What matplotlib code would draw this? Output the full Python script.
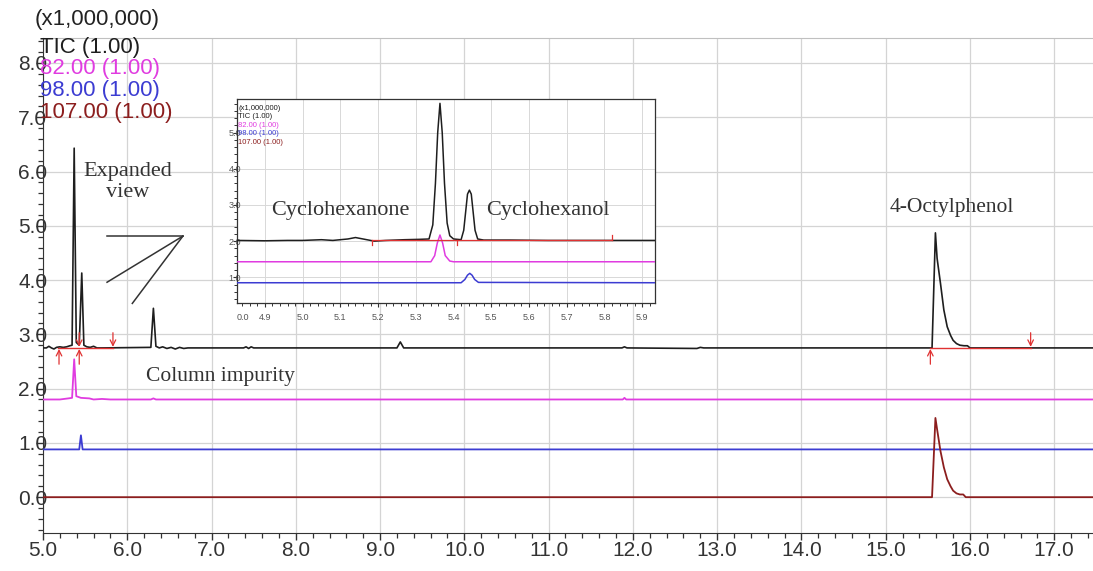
import numpy as np
import matplotlib.pyplot as plt
from matplotlib.ticker import MultipleLocator

plt.rcParams['font.family'] = ['Liberation Sans', 'DejaVu Sans']

# main chromatogram traces, time (min) / intensity (x1,000,000)
tic_t = [5.00, 5.04, 5.07, 5.10, 5.13, 5.16, 5.20, 5.24, 5.28, 5.32, 5.345, 5.37, 5.395,
         5.43, 5.46, 5.485, 5.52, 5.56, 5.60, 5.64, 5.70, 6.28, 6.31, 6.34, 6.38, 6.42,
         6.47, 6.52, 6.57, 6.62, 6.67, 6.72, 7.38, 7.41, 7.44, 7.47, 7.50, 9.20, 9.24,
         9.28, 11.87, 11.90, 11.93, 12.76, 12.80, 12.84, 15.55, 15.59, 15.61, 15.65,
         15.69, 15.73, 15.77, 15.80, 15.84, 15.88, 15.93, 15.97, 16.00, 17.46]
tic_v = [2.75, 2.75, 2.78, 2.75, 2.73, 2.76, 2.77, 2.76, 2.77, 2.79, 2.80, 6.43, 2.85,
         2.80, 4.13, 2.80, 2.77, 2.76, 2.78, 2.75, 2.75, 2.76, 3.48, 2.78, 2.75, 2.77,
         2.74, 2.76, 2.73, 2.76, 2.74, 2.75, 2.75, 2.77, 2.74, 2.77, 2.75, 2.75, 2.86,
         2.75, 2.75, 2.77, 2.75, 2.74, 2.76, 2.75, 2.75, 4.87, 4.40, 3.94, 3.45, 3.14,
         2.98, 2.89, 2.83, 2.80, 2.79, 2.79, 2.75, 2.75]

m82_t = [5.00, 5.20, 5.30, 5.345, 5.37, 5.395, 5.45, 5.55, 5.60, 5.70, 5.80, 6.28, 6.31,
         6.34, 11.88, 11.90, 11.92, 17.46]
m82_v = [1.80, 1.80, 1.82, 1.83, 2.54, 1.86, 1.83, 1.82, 1.80, 1.81, 1.80, 1.80, 1.82,
         1.80, 1.80, 1.83, 1.80, 1.80]

m98_t = [5.00, 5.43, 5.45, 5.47, 17.46]
m98_v = [0.88, 0.88, 1.14, 0.88, 0.88]

m107_t = [5.00, 15.55, 15.59, 15.61, 15.65, 15.69, 15.73, 15.77, 15.80, 15.84, 15.88,
          15.92, 15.95, 17.46]
m107_v = [0.00, 0.00, 1.46, 1.25, 0.85, 0.55, 0.33, 0.20, 0.12, 0.07, 0.05, 0.05, 0.00,
          0.00]

# integration baselines and peak start/end marks on the TIC
base_segs = [(5.18, 5.83), (15.53, 16.72)]
tic_base = 2.75
mark_up = [5.19, 5.43, 15.53]
mark_down = [5.43, 5.83, 16.72]

# expanded view, 4.83-5.93 min
ex_tic_t = [4.826, 4.90, 4.96, 5.00, 5.05, 5.08, 5.12, 5.14, 5.16, 5.19, 5.22, 5.27,
            5.31, 5.335, 5.345, 5.352, 5.358, 5.364, 5.370, 5.376, 5.383, 5.39, 5.40,
            5.42, 5.427, 5.432, 5.437, 5.442, 5.447, 5.452, 5.457, 5.464, 5.48, 5.55,
            5.65, 5.75, 5.934]
ex_tic_v = [2.02, 2.01, 2.02, 2.02, 2.04, 2.02, 2.06, 2.10, 2.06, 2.00, 2.02, 2.04,
            2.05, 2.06, 2.45, 3.60, 5.00, 5.81, 5.00, 3.60, 2.50, 2.15, 2.06,
            2.04, 2.30, 2.80, 3.30, 3.41, 3.30, 2.80, 2.30, 2.06, 2.03, 2.03,
            2.02, 2.02, 2.02]
ex_82_t = [4.826, 5.34, 5.35, 5.357, 5.364, 5.371, 5.378, 5.39, 5.40, 5.934]
ex_82_v = [1.43, 1.43, 1.60, 1.95, 2.17, 1.95, 1.60, 1.45, 1.43, 1.43]
ex_98_t = [4.826, 5.42, 5.43, 5.437, 5.443, 5.449, 5.456, 5.466, 5.934]
ex_98_v = [0.85, 0.85, 0.94, 1.06, 1.11, 1.06, 0.94, 0.86, 0.85]
ex_base = (5.183, 5.82)
ex_level = 2.02

legend = ['TIC (1.00)', '82.00 (1.00)', '98.00 (1.00)', '107.00 (1.00)']
colors = ['#1e1e1e', '#e03ce0', '#3c3cd2', '#8c1e1e']
red = '#e03232'

fig = plt.figure(figsize=(10.93, 5.71), dpi=100)
ax = fig.add_axes([43/1093, 38/571, 1 - 43/1093, 495/571])

ax.plot(tic_t, tic_v, color=colors[0], lw=1.2, zorder=3)
ax.plot(m82_t, m82_v, color=colors[1], lw=1.3, zorder=3)
ax.plot(m98_t, m98_v, color=colors[2], lw=1.3, zorder=3)
ax.plot(m107_t, m107_v, color=colors[3], lw=1.3, zorder=3)
for a, b in base_segs:
    ax.plot([a, b], [tic_base, tic_base], color=red, lw=1.0, zorder=4)
for x in mark_up:
    ax.annotate('', xy=(x, tic_base - 0.02), xytext=(x, tic_base - 0.30),
                arrowprops=dict(arrowstyle='->', color=red, lw=0.9, shrinkA=0, shrinkB=0))
for x in mark_down:
    ax.annotate('', xy=(x, tic_base + 0.02), xytext=(x, tic_base + 0.28),
                arrowprops=dict(arrowstyle='->', color=red, lw=0.9, shrinkA=0, shrinkB=0))

ax.set_xlim(5.0, 17.46)
ax.set_ylim(-0.66, 8.46)
ax.xaxis.set_major_locator(MultipleLocator(1.0))
ax.xaxis.set_minor_locator(MultipleLocator(0.2))
ax.yaxis.set_major_locator(MultipleLocator(1.0))
ax.yaxis.set_minor_locator(MultipleLocator(0.2))
ax.xaxis.set_major_formatter('{x:.1f}')
ax.yaxis.set_major_formatter('{x:.1f}')
ax.set_yticks(np.arange(0, 9, 1.0))
ax.grid(True, which='major', color='#d4d4d4', lw=0.9)
ax.tick_params(axis='both', which='major', length=5, width=1, color='#333333',
               labelsize=15, labelcolor='#333333')
ax.tick_params(axis='both', which='minor', length=3.5, width=0.9, color='#333333')
ax.tick_params(axis='y', pad=-8)
ax.tick_params(axis='x', pad=1)
ax.spines['right'].set_visible(False)
ax.spines['top'].set_color('#c0c0c0')
ax.spines['left'].set_color('#333333')
ax.spines['bottom'].set_color('#333333')

# header and trace legend
fig.text(35/1093, 1 - 20/571, '(x1,000,000)', fontsize=16, color='#222222', va='center')
for i, (lab, c) in enumerate(zip(legend, colors)):
    fig.text(40/1093, 1 - (47 + 21.7*i)/571, lab, fontsize=16, color=c, va='center')

serif = ['Liberation Serif', 'DejaVu Serif']
ax.text(6.01, 5.80, 'Expanded\nview', family=serif, fontsize=16, color='#333333',
        ha='center', va='center', linespacing=1.15)
ax.plot([5.76, 6.66], [4.81, 4.81], color='#333333', lw=1.1)
ax.plot([5.76, 6.66], [3.96, 4.81], color='#333333', lw=1.1)
ax.plot([6.06, 6.66], [3.57, 4.81], color='#333333', lw=1.1)
ax.text(7.10, 2.22, 'Column impurity', family=serif, fontsize=15.5, color='#333333',
        ha='center', va='center')
ax.text(15.78, 5.33, '4-Octylphenol', family=serif, fontsize=15.5, color='#333333',
        ha='center', va='center')

# inset
ins = fig.add_axes([237/1093, 1 - 303/571, 418/1093, 204/571])
ins.set_facecolor('white')
ins.plot(ex_tic_t, ex_tic_v, color=colors[0], lw=1.1, zorder=3)
ins.plot(ex_82_t, ex_82_v, color=colors[1], lw=1.1, zorder=3)
ins.plot(ex_98_t, ex_98_v, color=colors[2], lw=1.1, zorder=3)
ins.plot(ex_base, [ex_level, ex_level], color=red, lw=0.9, zorder=4)
for x, d in [(5.183, -1), (5.41, -1), (5.82, 1)]:
    ins.plot([x, x], [ex_level, ex_level + d*0.14], color=red, lw=0.9, zorder=4)
ins.set_xlim(4.826, 5.934)
ins.set_ylim(0.29, 5.93)
ins.xaxis.set_minor_locator(MultipleLocator(0.02))
ins.set_xticks(np.arange(4.9, 5.95, 0.1))
ins.set_yticks(np.arange(1.0, 5.5, 1.0))
ins.yaxis.set_minor_locator(MultipleLocator(0.2))
ins.xaxis.set_major_formatter('{x:.1f}')
ins.yaxis.set_major_formatter('{x:.1f}')
ins.grid(True, which='major', color='#d8d8d8', lw=0.7)
ins.tick_params(axis='both', which='major', length=3, width=0.8, color='#333333',
                labelsize=6.5, labelcolor='#555555')
ins.tick_params(axis='both', which='minor', length=2, width=0.7, color='#333333')
ins.tick_params(axis='y', pad=-6)
ins.tick_params(axis='x', pad=4)
for s in ins.spines.values():
    s.set_color('#333333')
    s.set_linewidth(0.9)
ins.text(0.0, -0.07, '0.0', transform=ins.transAxes, fontsize=6.5, color='#555555',
         ha='left', va='center')

ins_lines = ['(x1,000,000)'] + legend
ins_cols = [colors[0]] + colors
for i, (lab, c) in enumerate(zip(ins_lines, ins_cols)):
    ins.text(0.003, 0.955 - 0.042*i, lab, transform=ins.transAxes, fontsize=5.5,
             color=c, va='center', ha='left')

ins.text(5.10, 2.86, 'Cyclohexanone', family=serif, fontsize=16, color='#333333',
         ha='center', va='center')
ins.text(5.65, 2.86, 'Cyclohexanol', family=serif, fontsize=16, color='#333333',
         ha='center', va='center')

plt.savefig('out.png', dpi=100)
